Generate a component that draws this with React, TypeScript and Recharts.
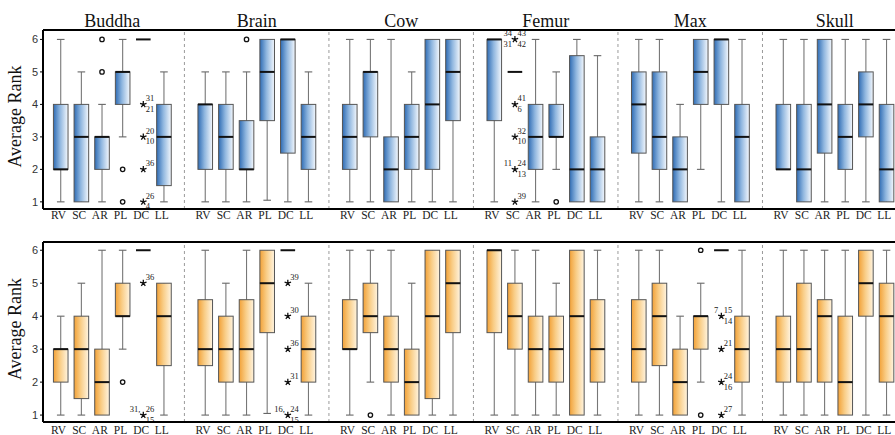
import { ComposedChart, Bar, XAxis, YAxis, ReferenceLine } from "recharts"

const categories = ["RV", "SC", "AR", "PL", "DC", "LL"]
const models = ["Buddha", "Brain", "Cow", "Femur", "Max", "Skull"]
const rankTicks = [1, 2, 3, 4, 5, 6]

// [min, q1, median, q3, max] for each method, one list per model
const topBoxes = [
  [[1, 2, 2, 4, 6], [1, 1, 3, 4, 5], [1, 2, 3, 3, 4], [3, 4, 5, 5, 6], [6, 6, 6, 6, 6], [1, 1.5, 3, 4, 5]],
  [[1, 2, 4, 4, 5], [1, 2, 3, 4, 5], [1, 2, 2, 3.5, 5], [1.05, 3.5, 5, 6, 6], [1, 2.5, 6, 6, 6], [1, 2, 3, 4, 5]],
  [[1, 2, 3, 4, 6], [1, 3, 5, 5, 6], [1, 1, 2, 3, 6], [1, 2, 3, 4, 5], [1, 2, 4, 6, 6], [1, 3.5, 5, 6, 6]],
  [[1, 3.5, 6, 6, 6], [5, 5, 5, 5, 5], [1, 2, 3, 4, 6], [2, 3, 3, 4, 5], [1, 1, 2, 5.5, 6], [1, 1, 2, 3, 5.5]],
  [[1, 2.5, 4, 5, 6], [1, 2, 3, 5, 6], [1, 1, 2, 3, 4], [2, 4, 5, 6, 6], [1, 4, 6, 6, 6], [1, 1, 3, 4, 6]],
  [[2, 2, 2, 4, 6], [1, 1, 2, 4, 6], [1, 2.5, 4, 6, 6], [1, 2, 3, 4, 6], [1, 3, 4, 5, 6], [1, 1, 2, 4, 6]],
]

const bottomBoxes = [
  [[1, 2, 3, 3, 4], [1, 1.5, 3, 4, 5], [1, 1, 2, 3, 6], [3, 4, 4, 5, 6], [6, 6, 6, 6, 6], [1, 2.5, 4, 5, 5]],
  [[1, 2.5, 3, 4.5, 6], [1, 2, 3, 4, 5], [1, 2, 3, 4.5, 6], [1.05, 3.5, 5, 6, 6], [6, 6, 6, 6, 6], [1, 2, 3, 4, 5]],
  [[1, 3, 3, 4.5, 6], [2, 3.5, 4, 5, 6], [1, 2, 3, 4, 6], [1, 1, 2, 3, 5], [1, 1.5, 4, 6, 6], [1, 3.5, 5, 6, 6]],
  [[1, 3.5, 6, 6, 6], [1, 3, 4, 5, 6], [1, 2, 3, 4, 6], [1, 2, 3, 4, 5], [1, 1, 4, 6, 6], [1, 2, 3, 4.5, 6]],
  [[1, 2, 3, 4.5, 6], [1, 2.5, 4, 5, 6], [1, 1, 2, 3, 4], [2, 3, 4, 4, 5], [6, 6, 6, 6, 6], [1, 2, 3, 4, 6]],
  [[1, 2, 3, 4, 6], [1, 2, 3, 5, 6], [1, 2, 4, 4.5, 6], [1, 1, 2, 4, 6], [1, 4, 5, 6, 6], [1, 2, 4, 5, 6]],
]

// mild outliers (o)
const topCircles: Record<string, number[]> = {
  "Buddha-AR": [5, 6],
  "Buddha-PL": [2, 1],
  "Brain-AR": [6],
  "Femur-PL": [1],
}
const bottomCircles: Record<string, number[]> = {
  "Buddha-PL": [2],
  "Cow-SC": [1],
  "Max-PL": [6, 1],
}

// extreme outliers (*): [value, upper-left, upper-right, lower-left, lower-right]
type StarMark = [number, string, string, string, string]
const topStars: Record<string, StarMark[]> = {
  "Buddha-DC": [[4, "", "31", "", "21"], [3, "", "20", "", "10"], [2, "", "36", "", ""], [1, "", "26", "", "4"]],
  "Femur-SC": [
    [6, "34", "43", "31", "42"],
    [4, "", "41", "", "6"],
    [3, "", "32", "", "10"],
    [2, "11", "24", "", "13"],
    [1, "", "39", "", ""],
  ],
}
const bottomStars: Record<string, StarMark[]> = {
  "Buddha-DC": [[5, "", "36", "", ""], [1, "31,", "26", "", "15"]],
  "Brain-DC": [[5, "", "39", "", ""], [4, "", "30", "", ""], [3, "", "36", "", ""], [2, "", "31", "", ""], [1, "16,", "24", "", "15"]],
  "Max-DC": [[4, "7", "15", "", "14"], [3, "", "21", "", ""], [2, "", "24", "", "16"], [1, "", "27", "", ""]],
}

const PANEL = 7 // six methods plus one empty slot between models
const SERIF = "'Liberation Serif', 'Times New Roman', serif"
const SANS = "'Liberation Sans', Arial, sans-serif"

function buildRows(boxes: number[][][], circles: Record<string, number[]>, stars: Record<string, StarMark[]>) {
  const rows: any[] = []
  boxes.forEach((panel, p) =>
    panel.forEach((stats, c) => {
      const key = `${models[p]}-${categories[c]}`
      rows.push({ x: p * PANEL + c, ref: [1, 6], stats, circles: circles[key] || [], stars: stars[key] || [] })
    })
  )
  return rows
}

const topRows = buildRows(topBoxes, topCircles, topStars)
const bottomRows = buildRows(bottomBoxes, bottomCircles, bottomStars)
const catTicks = topRows.map((r) => r.x)
const separators = models.slice(1).map((_, i) => i * PANEL + 6)
const titleTicks = models.map((_, p) => p * PANEL + 2.5)

function BoxShape(props: any) {
  const { x, y, width, height, payload, gradId } = props
  if (payload == null || height == null) return null
  const cx = x + width / 2
  // the bar spans ranks 1..6, so its rect gives the y scale
  const yv = (v: number) => y + ((6 - v) / 5) * height
  const [mn, q1, md, q3, mx] = payload.stats
  const hw = 7.3
  const cap = 3.8
  return (
    <g>
      {mx > mn && <line x1={cx} x2={cx} y1={yv(mx)} y2={yv(mn)} stroke="#777" strokeWidth={1.1} />}
      {mx > q3 && <line x1={cx - cap} x2={cx + cap} y1={yv(mx)} y2={yv(mx)} stroke="#666" strokeWidth={1.1} />}
      {mn < q1 && <line x1={cx - cap} x2={cx + cap} y1={yv(mn)} y2={yv(mn)} stroke="#666" strokeWidth={1.1} />}
      {q3 > q1 && (
        <rect x={cx - hw} y={yv(q3)} width={hw * 2} height={yv(q1) - yv(q3)} fill={`url(#${gradId})`} stroke="#555" strokeWidth={1} />
      )}
      <line x1={cx - hw} x2={cx + hw} y1={yv(md)} y2={yv(md)} stroke="#111" strokeWidth={2} />
      {payload.circles.map((v: number) => (
        <circle key={"c" + v} cx={cx} cy={yv(v)} r={2.2} fill="#fff" stroke="#111" strokeWidth={1.3} />
      ))}
      {payload.stars.map((s: StarMark) => {
        const cy = yv(s[0])
        const spokes = [0, 72, 144, 216, 288].map((a) => {
          const r = (a - 90) * (Math.PI / 180)
          return `M${cx},${cy}L${cx + 3.4 * Math.cos(r)},${cy + 3.4 * Math.sin(r)}`
        })
        const t = { fontFamily: SERIF, fontSize: 8.5, fill: "#222" }
        return (
          <g key={"s" + s[0]}>
            <path d={spokes.join("")} stroke="#111" strokeWidth={1.3} />
            {s[1] && <text x={cx - 3} y={cy - 3} textAnchor="end" {...t}>{s[1]}</text>}
            {s[2] && <text x={cx + 2.5} y={cy - 3} {...t}>{s[2]}</text>}
            {s[3] && <text x={cx - 3} y={cy + 7.5} textAnchor="end" {...t}>{s[3]}</text>}
            {s[4] && <text x={cx + 2.5} y={cy + 7.5} {...t}>{s[4]}</text>}
          </g>
        )
      })}
    </g>
  )
}

const CategoryTick = (props: any) => {
  const { x, y, payload, dy } = props
  return (
    <text x={x - 2} y={y + dy} textAnchor="middle" fontFamily={SERIF} fontSize={11.5} fill="#222">
      {categories[payload.value % PANEL]}
    </text>
  )
}

const TitleTick = (props: any) => {
  const { x, y, payload } = props
  return (
    <text x={x} y={y - 3} textAnchor="middle" fontFamily={SERIF} fontSize={18} fill="#111">
      {models[Math.round(payload.value - 2.5) / PANEL]}
    </text>
  )
}

const RankTick = (props: any) => {
  const { x, y, payload } = props
  return (
    <text x={x} y={y + 4} textAnchor="end" fontFamily={SANS} fontSize={11} fill="#333">
      {payload.value}
    </text>
  )
}

const RankLabel = (props: any) => {
  const { viewBox } = props
  const cy = viewBox.y + viewBox.height / 2 - 3
  return (
    <text x={21} y={cy} transform={`rotate(-90 21 ${cy})`} textAnchor="middle" fontFamily={SERIF} fontSize={18} fill="#111">
      Average Rank
    </text>
  )
}

function BoxRow({ rows, gradId, colors, height, topAxis, bottomAxis, labelDy, domain, titles }: any) {
  return (
    <ComposedChart width={920} height={height} data={rows} margin={{ top: 0, right: 13, bottom: 0, left: 0 }}>
      <defs>
        <linearGradient id={gradId} x1="0" y1="0" x2="1" y2="0">
          <stop offset="0" stopColor={colors[0]} />
          <stop offset="0.45" stopColor={colors[1]} />
          <stop offset="1" stopColor={colors[2]} />
        </linearGradient>
      </defs>
      <XAxis
        xAxisId="top"
        orientation="top"
        type="number"
        dataKey="x"
        domain={[-0.85, 41]}
        ticks={titles ? titleTicks : []}
        tick={titles ? <TitleTick /> : false}
        tickLine={false}
        tickSize={0}
        tickMargin={0}
        height={topAxis}
        axisLine={{ stroke: "#000", strokeWidth: 2 }}
        interval={0}
      />
      <XAxis
        xAxisId="x"
        type="number"
        dataKey="x"
        domain={[-0.85, 41]}
        ticks={catTicks}
        interval={0}
        tick={<CategoryTick dy={labelDy} />}
        tickLine={false}
        tickSize={0}
        tickMargin={0}
        height={bottomAxis}
        axisLine={{ stroke: "#000", strokeWidth: 2 }}
      />
      <YAxis
        type="number"
        domain={domain}
        ticks={rankTicks}
        width={43}
        tick={<RankTick />}
        tickSize={3}
        tickMargin={2}
        tickLine={{ stroke: "#000" }}
        axisLine={{ stroke: "#000", strokeWidth: 2 }}
        label={<RankLabel />}
        allowDataOverflow
      />
      {separators.map((s) => (
        <ReferenceLine key={s} xAxisId="x" x={s} stroke="#9a9a9a" strokeDasharray="3 3" strokeWidth={1} />
      ))}
      <Bar
        xAxisId="x"
        dataKey="ref"
        barSize={15}
        isAnimationActive={false}
        shape={(p: any) => <BoxShape {...p} gradId={gradId} />}
      />
    </ComposedChart>
  )
}

export default function App() {
  return (
    <div style={{ position: "absolute", left: 0, top: 0, width: 895, height: 435, overflow: "hidden", background: "#fff" }}>
      <div style={{ position: "absolute", left: 0, top: 0 }}>
        <BoxRow
          rows={topRows}
          gradId="gradBlue"
          colors={["#2f6cb4", "#8fb6df", "#f4f8fd"]}
          height={222}
          topAxis={30}
          bottomAxis={13}
          labelDy={9.5}
          domain={[0.78, 6.29]}
          titles
        />
      </div>
      <div style={{ position: "absolute", left: 0, top: 225 }}>
        <BoxRow
          rows={bottomRows}
          gradId="gradOrange"
          colors={["#f2a137", "#f9cd86", "#fff4e0"]}
          height={211}
          topAxis={17}
          bottomAxis={14}
          labelDy={11.5}
          domain={[0.79, 6.25]}
        />
      </div>
    </div>
  )
}
